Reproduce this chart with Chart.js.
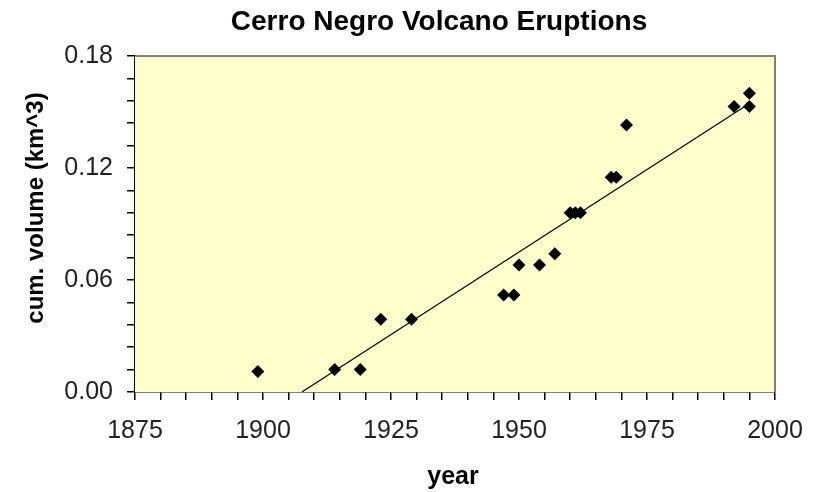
<!DOCTYPE html>
<html>
<head>
<meta charset="utf-8">
<script src="https://cdn.jsdelivr.net/npm/chart.js@4"></script>
<style>
  html, body { margin: 0; padding: 0; background: #fff; }
  #wrap { width: 813px; height: 492px; }
</style>
</head>
<body>
<div id="wrap"><canvas id="chart" width="813" height="492"></canvas></div>
<script>
// eruption years and cumulative volume (km^3)
const years = [1899, 1914, 1919, 1923, 1929, 1947, 1949, 1950, 1954, 1957, 1960, 1961, 1962, 1968, 1969, 1971, 1992, 1995, 1995];
const volumes = [0.011, 0.012, 0.012, 0.039, 0.039, 0.052, 0.052, 0.068, 0.068, 0.074, 0.096, 0.096, 0.096, 0.115, 0.115, 0.143, 0.153, 0.153, 0.160];

// linear trend endpoints
const trendYears = [1907.6, 1994.4];
const trendValues = [0, 0.1535];

const xTicks = [1875, 1900, 1925, 1950, 1975, 2000];
const yTicks = [0, 0.06, 0.12, 0.18];

const FONT = '"Liberation Sans", Arial, sans-serif';

// 描画エリアの背景と枠
const plotFrame = {
  id: 'plotFrame',
  beforeDatasetsDraw(chart) {
    const { ctx, chartArea: a } = chart;
    ctx.save();
    ctx.fillStyle = '#ffffcc';
    ctx.fillRect(a.left, a.top, a.right - a.left, a.bottom - a.top);
    ctx.restore();
  },
  afterDraw(chart) {
    const { ctx, chartArea: a } = chart;
    ctx.save();
    ctx.strokeStyle = '#808080';
    ctx.lineWidth = 2;
    ctx.beginPath();
    ctx.moveTo(a.left, a.top);
    ctx.lineTo(a.right, a.top);
    ctx.lineTo(a.right, a.bottom);
    ctx.stroke();
    ctx.restore();
  }
};

// タイトルと軸ラベル
const labels = {
  id: 'labels',
  afterDraw(chart) {
    const ctx = chart.ctx;
    ctx.save();
    ctx.fillStyle = '#000';
    ctx.textAlign = 'center';
    ctx.textBaseline = 'middle';
    ctx.font = 'bold 28px ' + FONT;
    ctx.fillText('Cerro Negro Volcano Eruptions', 439, 22);
    ctx.font = 'bold 25px ' + FONT;
    ctx.fillText('year', 453, 477);
    ctx.translate(36, 208);
    ctx.rotate(-Math.PI / 2);
    ctx.font = 'bold 24px ' + FONT;
    ctx.fillText('cum. volume (km^3)', 0, 0);
    ctx.restore();
  }
};

const isMajor = (v, list) => list.some(t => Math.abs(v - t) < 1e-6);

new Chart(document.getElementById('chart'), {
  type: 'scatter',
  data: {
    datasets: [
      {
        label: 'eruptions',
        data: years.map((y, i) => ({ x: y, y: volumes[i] })),
        pointStyle: 'rectRot',
        pointRadius: 6.5,
        backgroundColor: '#000',
        borderColor: '#000',
        borderWidth: 0
      },
      {
        label: 'trend',
        data: trendYears.map((y, i) => ({ x: y, y: trendValues[i] })),
        showLine: true,
        borderColor: '#000',
        borderWidth: 1.2,
        pointRadius: 0
      }
    ]
  },
  options: {
    responsive: false,
    animation: false,
    layout: { padding: { top: 56, right: 38, left: 0, bottom: 0 } },
    plugins: {
      legend: { display: false },
      tooltip: { enabled: false }
    },
    scales: {
      x: {
        type: 'linear',
        min: 1875,
        max: 2000,
        afterFit: s => { s.height = 100; s.paddingLeft = 0; s.paddingRight = 0; },
        border: { display: true, color: '#000', width: 1.5 },
        grid: { drawOnChartArea: false, drawTicks: true, tickLength: 8, color: '#000', lineWidth: 1.5 },
        ticks: {
          stepSize: 5,
          autoSkip: false,
          maxRotation: 0,
          padding: 16,
          color: '#222',
          font: { family: FONT, size: 25 },
          callback: v => isMajor(v, xTicks) ? String(v) : ''
        }
      },
      y: {
        min: 0,
        max: 0.18,
        afterFit: s => { s.width = 135; s.paddingTop = 0; s.paddingBottom = 0; },
        border: { display: true, color: '#000', width: 1.5 },
        grid: { drawOnChartArea: false, drawTicks: true, tickLength: 8, color: '#000', lineWidth: 1.5 },
        ticks: {
          stepSize: 0.012,
          autoSkip: false,
          padding: 14,
          color: '#222',
          font: { family: FONT, size: 25 },
          callback: v => isMajor(v, yTicks) ? v.toFixed(2) : ''
        }
      }
    }
  },
  plugins: [plotFrame, labels]
});
</script>
</body>
</html>
